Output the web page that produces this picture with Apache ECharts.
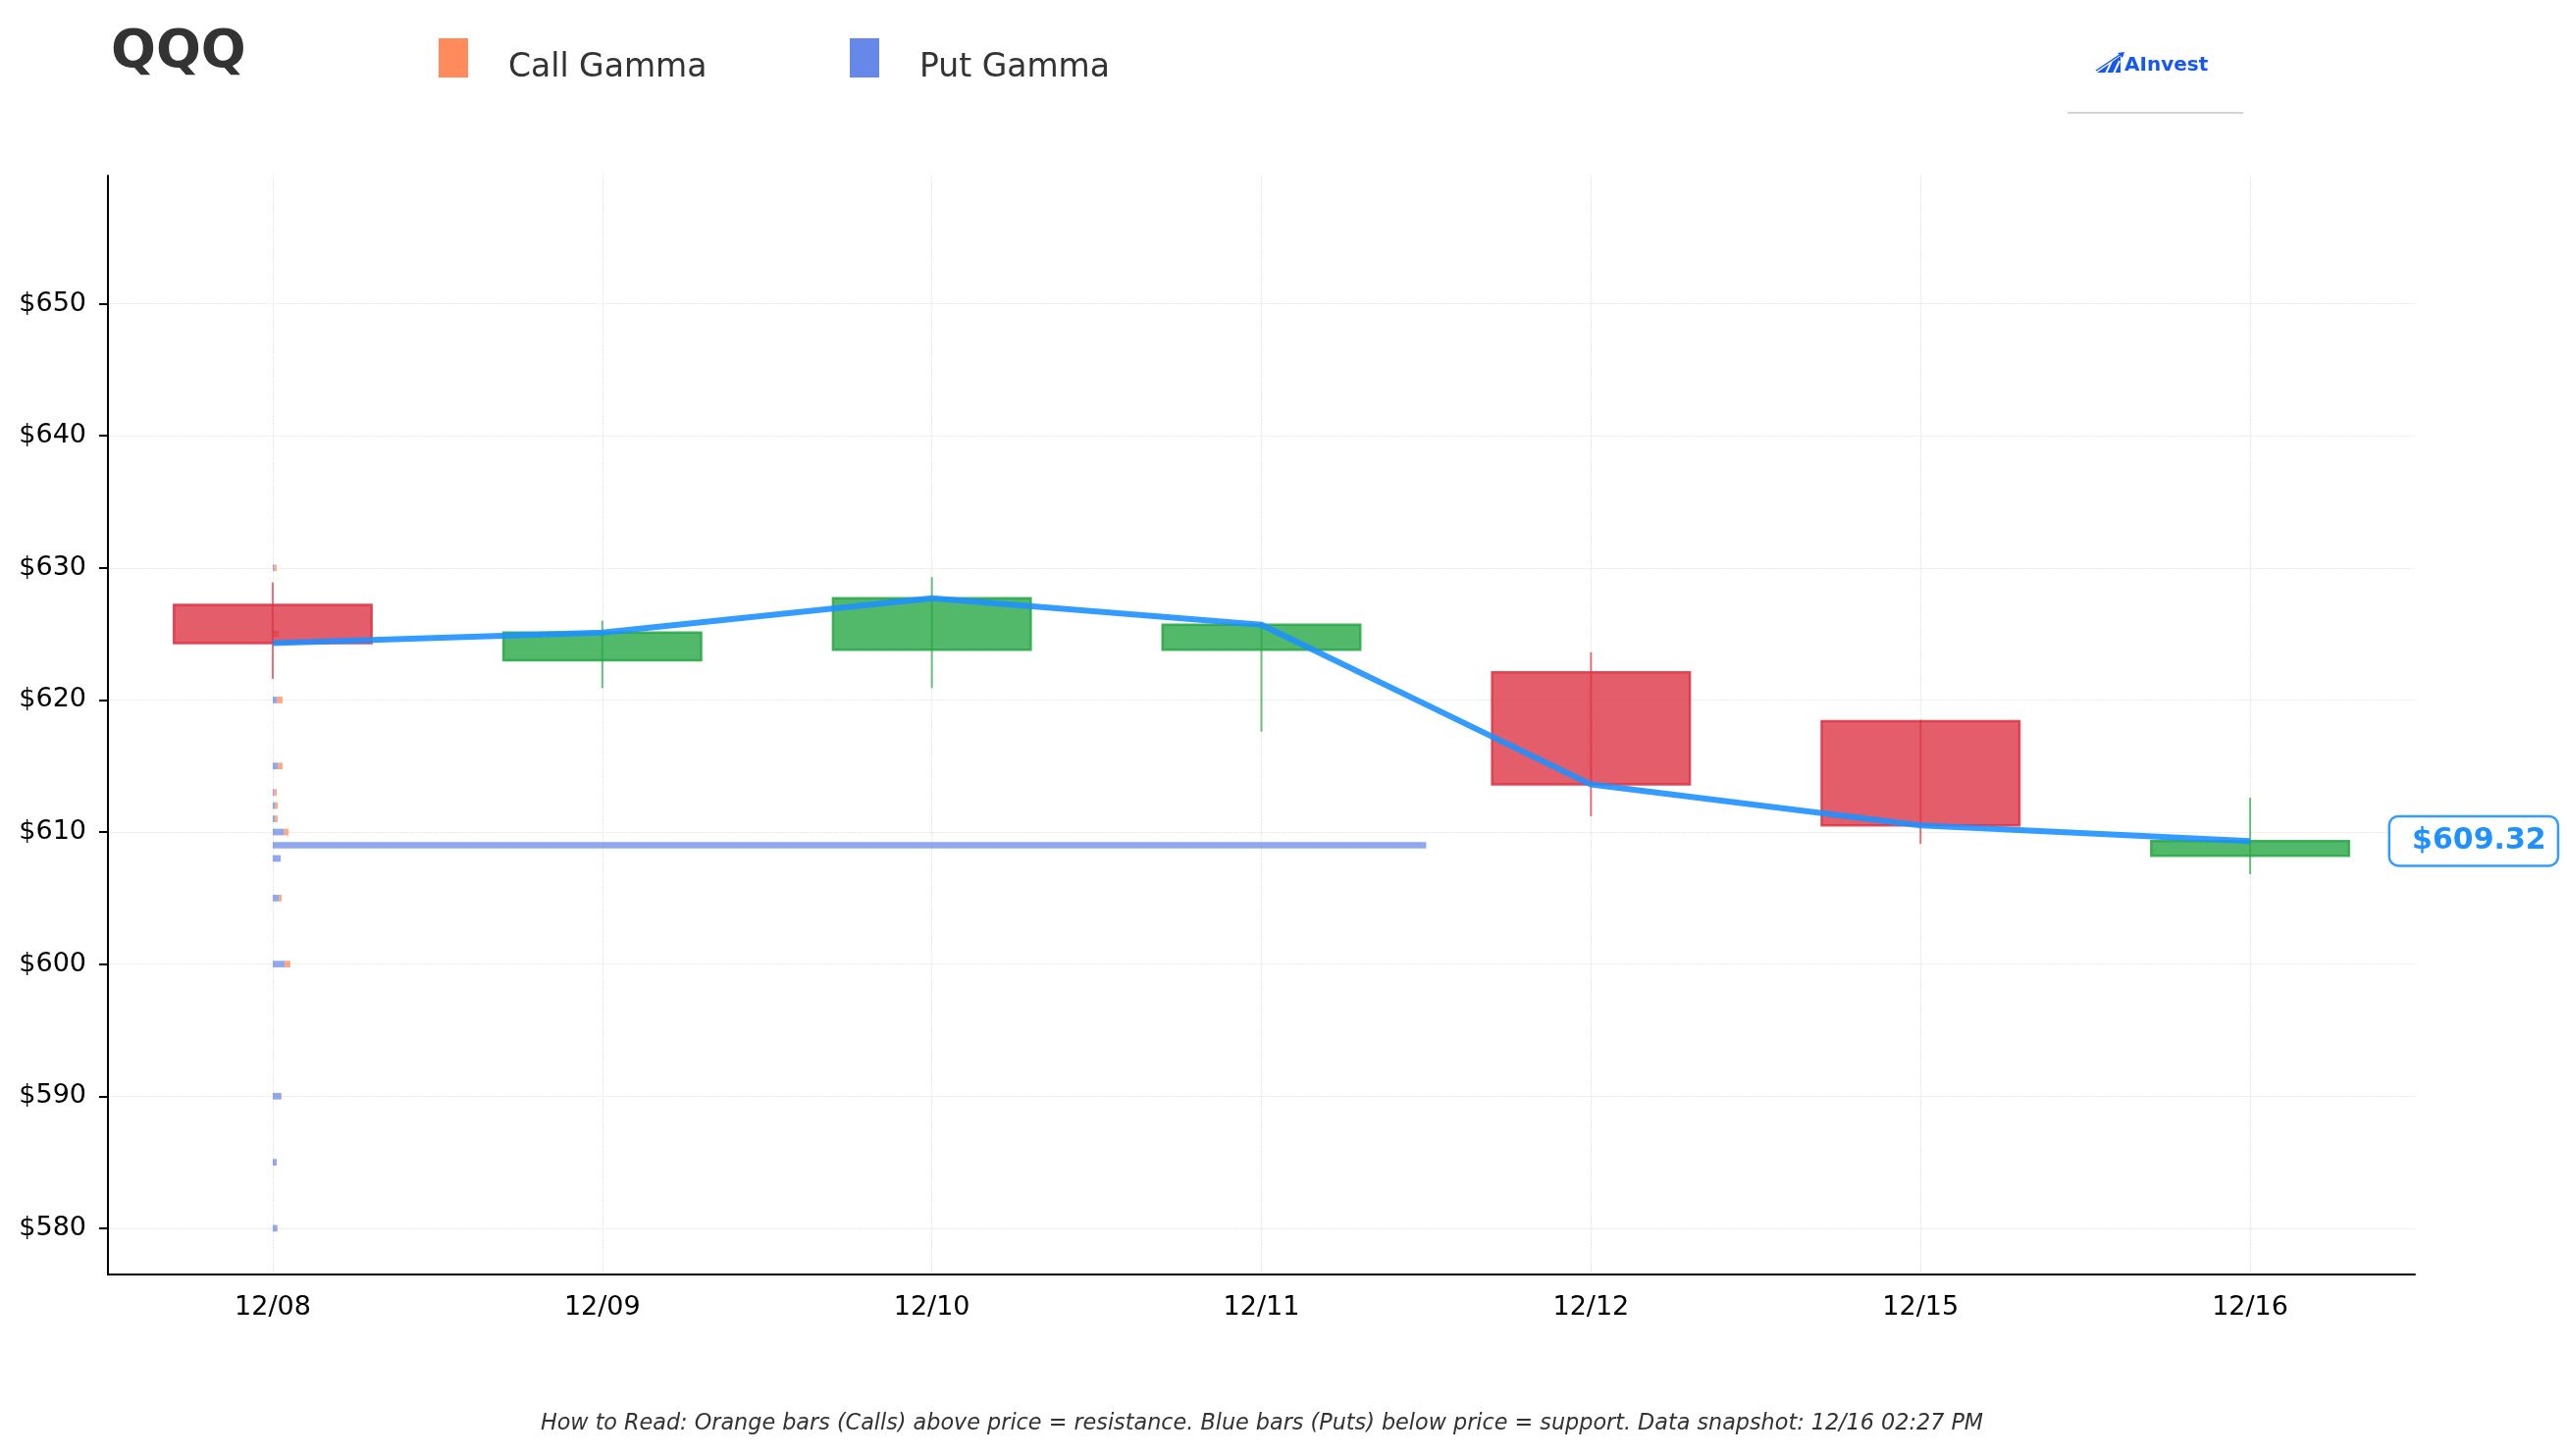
<!DOCTYPE html>
<html>
<head>
<meta charset="utf-8">
<title>QQQ Gamma</title>
<script src="https://cdn.jsdelivr.net/npm/echarts@6/dist/echarts.min.js"></script>
<style>
  html, body { margin: 0; padding: 0; background: #fff; }
  #chart { width: 2616px; height: 1484px; }
</style>
</head>
<body>
<div id="chart"></div>
<script>
// trading days
const dates = ['12/08', '12/09', '12/10', '12/11', '12/12', '12/15', '12/16'];

// daily candles
const opens  = [627.2, 623.0, 623.8, 623.8, 622.1, 618.4, 608.2];
const closes = [624.3, 625.1, 627.7, 625.7, 613.6, 610.5, 609.32];
const lows   = [621.6, 620.9, 620.9, 617.6, 611.2, 609.1, 606.8];
const highs  = [628.9, 626.0, 629.3, 625.9, 623.6, 618.5, 612.6];

// gamma by strike (100 = one day wide on the chart)
const strikes   = [630, 625, 620, 615, 613, 612, 611, 610, 609, 608, 605, 600, 590, 585, 580];
const putGamma  = [0.4, 0.6, 1.2, 1.5, 0.4, 0.6, 0.6, 3.3, 350, 2.4, 1.8, 3.6, 2.4, 1.2, 1.2];
const callGamma = [0.8, 1.2, 1.8, 1.5, 0.8, 0.9, 0.9, 1.5, 0, 0, 0.9, 1.8, 0.3, 0, 0.3];

const priceTicks = [580, 590, 600, 610, 620, 630, 640, 650];
const lastPrice = 609.32;

const FONT = 'DejaVu Sans';
const UP = '#28a745';
const DOWN = '#dc3545';
const CALL = '#ff8a5b';
const PUT = '#6688e8';

const chart = echarts.init(document.getElementById('chart'));

// candles: [index, open, close, low, high]
const candleData = dates.map((d, i) => [i, opens[i], closes[i], lows[i], highs[i]]);

// gamma bars: [strike, start, end] in day units
const putData = strikes.map((s, i) => [s, 0, putGamma[i] / 100]);
const callData = strikes.map((s, i) => [s, putGamma[i] / 100, (putGamma[i] + callGamma[i]) / 100]);

function gammaRender(color) {
    return function (params, api) {
        const s = api.value(0);
        const a = api.coord([api.value(1), s + 0.25]);
        const b = api.coord([api.value(2), s - 0.25]);
        if (b[0] - a[0] <= 0) return null;
        return {
            type: 'rect',
            shape: { x: a[0], y: a[1], width: b[0] - a[0], height: b[1] - a[1] },
            style: { fill: color, opacity: 0.73 }
        };
    };
}

function candleRender(params, api) {
    const i = api.value(0);
    const o = api.value(1), c = api.value(2), l = api.value(3), h = api.value(4);
    const up = c >= o;
    const col = up ? UP : DOWN;
    const top = api.coord([i, Math.max(o, c)]);
    const bot = api.coord([i, Math.min(o, c)]);
    const hi = api.coord([i, h]);
    const lo = api.coord([i, l]);
    const w = api.size([1, 0])[0] * 0.6;
    return {
        type: 'group',
        children: [
            {
                type: 'rect',
                shape: { x: top[0] - w / 2, y: top[1], width: w, height: bot[1] - top[1] },
                style: { fill: echarts.color.modifyAlpha(col, 0.8), stroke: echarts.color.modifyAlpha(col, 0.85), lineWidth: 2.5 }
            },
            {
                type: 'line',
                shape: { x1: hi[0], y1: hi[1], x2: lo[0], y2: lo[1] },
                style: { stroke: echarts.color.modifyAlpha(col, 0.7), lineWidth: 2 }
            }
        ]
    };
}

// legend drawn by hand so the label sits like the original
function legendItem(x, color, label) {
    return {
        type: 'group',
        children: [
            { type: 'rect', shape: { x: x, y: 39, width: 30, height: 40 }, style: { fill: color } },
            {
                type: 'text', x: x + 71, y: 69,
                style: { text: label, fontFamily: FONT, fontSize: 33, fill: '#333', verticalAlign: 'middle' }
            }
        ]
    };
}

const option = {
    animation: false,
    backgroundColor: '#fff',
    textStyle: { fontFamily: FONT },
    grid: { left: 110, right: 155, top: 179, bottom: 185, containLabel: false },
    xAxis: [
        {
            type: 'category',
            data: dates,
            boundaryGap: true,
            axisLine: { lineStyle: { color: '#000', width: 2 } },
            axisTick: { alignWithLabel: true, length: 9, lineStyle: { color: '#000', width: 2 } },
            axisLabel: { fontFamily: FONT, fontSize: 27, color: '#000', margin: 20 },
            splitLine: { show: false }
        },
        {
            type: 'value',
            min: -0.5,
            max: 6.5,
            position: 'bottom',
            axisLine: { show: false, onZero: false },
            axisTick: { show: false, customValues: [0, 1, 2, 3, 4, 5, 6] },
            axisLabel: { show: false, customValues: [0, 1, 2, 3, 4, 5, 6] },
            splitLine: { show: true, lineStyle: { color: '#e2e2e2', type: 'dotted', width: 1.2 } }
        }
    ],
    yAxis: {
        type: 'value',
        min: 576.5,
        max: 659.7,
        position: 'left',
        axisLine: { show: true, onZero: false, lineStyle: { color: '#000', width: 2 } },
        axisTick: { show: true, length: 9, customValues: priceTicks, lineStyle: { color: '#000', width: 2 } },
        axisLabel: {
            fontFamily: FONT, fontSize: 27, color: '#000', margin: 22,
            customValues: priceTicks,
            formatter: v => '$' + v
        },
        splitLine: { show: true, lineStyle: { color: '#e2e2e2', type: 'dotted', width: 1.2 } }
    },
    series: [
        {
            name: 'Put Gamma',
            type: 'custom',
            xAxisIndex: 1,
            yAxisIndex: 0,
            z: 1,
            itemStyle: { color: PUT },
            encode: { x: [1, 2], y: 0 },
            renderItem: gammaRender(PUT),
            data: putData
        },
        {
            name: 'Call Gamma',
            type: 'custom',
            xAxisIndex: 1,
            yAxisIndex: 0,
            z: 1,
            itemStyle: { color: CALL },
            encode: { x: [1, 2], y: 0 },
            renderItem: gammaRender(CALL),
            data: callData
        },
        {
            name: 'Price',
            type: 'custom',
            xAxisIndex: 0,
            yAxisIndex: 0,
            z: 2,
            encode: { x: 0, y: [1, 2, 3, 4] },
            renderItem: candleRender,
            data: candleData
        },
        {
            name: 'Close',
            type: 'line',
            xAxisIndex: 0,
            yAxisIndex: 0,
            z: 3,
            data: closes,
            symbol: 'none',
            lineStyle: { color: 'rgba(30,144,255,0.9)', width: 6 },
            endLabel: {
                show: true,
                distance: 143,
                formatter: () => '$' + lastPrice.toFixed(2),
                fontFamily: FONT,
                fontSize: 30,
                fontWeight: 'bold',
                color: '#1e90ff',
                backgroundColor: '#fff',
                borderColor: 'rgba(30,144,255,0.9)',
                borderWidth: 2.5,
                borderRadius: 8,
                lineHeight: 30,
                padding: [9, 11, 9, 22]
            }
        }
    ],
    graphic: [
        {
            type: 'text',
            left: 113,
            top: 27,
            style: { text: 'QQQ', fontFamily: FONT, fontSize: 54, fontWeight: 'bold', fill: '#333' }
        },
        legendItem(447, CALL, 'Call Gamma'),
        legendItem(866, PUT, 'Put Gamma'),
        {
            type: 'text',
            x: 1286,
            y: 1451,
            style: {
                text: 'How to Read: Orange bars (Calls) above price = resistance. Blue bars (Puts) below price = support. Data snapshot: 12/16 02:27 PM',
                fontFamily: FONT, fontSize: 22.3, fontStyle: 'italic', fill: '#333',
                align: 'center', verticalAlign: 'middle'
            }
        },
        // AInvest logo
        {
            type: 'group',
            children: [
                {
                    type: 'polygon',
                    shape: { points: [[2137, 74], [2161, 74], [2161, 57]] },
                    style: { fill: '#1558f0' }
                },
                {
                    type: 'line',
                    shape: { x1: 2146, y1: 75, x2: 2153, y2: 60 },
                    style: { stroke: '#fff', lineWidth: 2 }
                },
                {
                    type: 'line',
                    shape: { x1: 2154, y1: 75, x2: 2160, y2: 62 },
                    style: { stroke: '#fff', lineWidth: 2 }
                },
                {
                    type: 'line',
                    shape: { x1: 2136, y1: 72, x2: 2163, y2: 54 },
                    style: { stroke: '#1558f0', lineWidth: 1.5 }
                },
                {
                    type: 'polygon',
                    shape: { points: [[2165, 53], [2158, 54], [2163, 59]] },
                    style: { fill: '#1558f0' }
                },
                {
                    type: 'text',
                    x: 2165,
                    y: 67,
                    style: { text: 'AInvest', fontFamily: FONT, fontSize: 20, fontWeight: 'bold', fill: '#1558f0', verticalAlign: 'middle' }
                },
                {
                    type: 'line',
                    shape: { x1: 2107, y1: 115, x2: 2286, y2: 115 },
                    style: { stroke: '#c4c4c4', lineWidth: 1.5 }
                }
            ]
        }
    ]
};

chart.setOption(option);
</script>
</body>
</html>
